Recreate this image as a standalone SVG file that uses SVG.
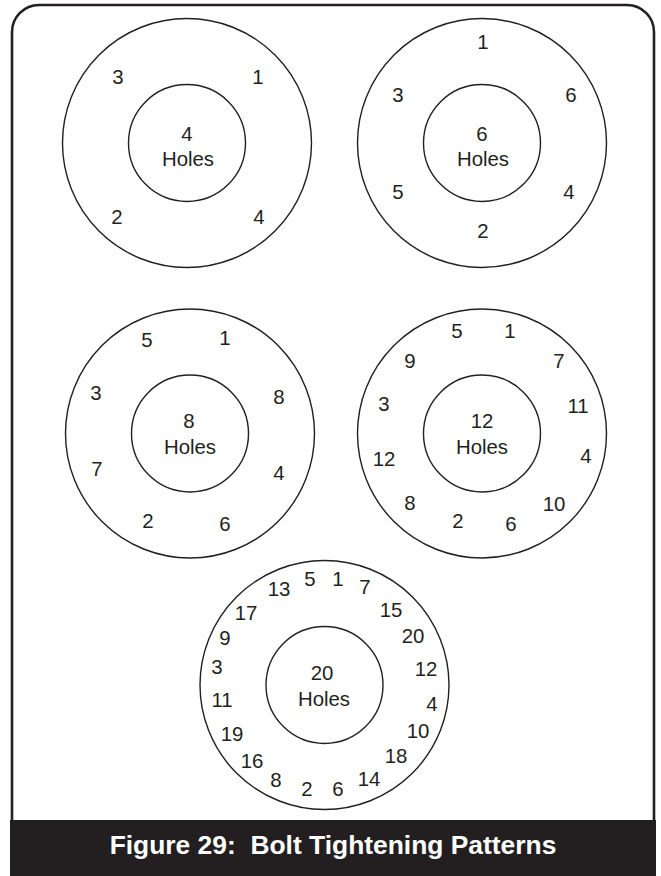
<svg xmlns="http://www.w3.org/2000/svg" width="661" height="876" viewBox="0 0 661 876">
<style>
.ring{fill:none;stroke:#231f20;stroke-width:1.4}
.n{font-family:"Liberation Sans",Arial,sans-serif;font-size:20.4px;fill:#231f20;text-anchor:middle}
.frame{fill:none;stroke:#231f20;stroke-width:2.6}
.cap{font-family:"Liberation Sans",Arial,sans-serif;font-size:26.4px;font-weight:bold;fill:#ffffff;text-anchor:middle;white-space:pre}
</style>
<rect x="0" y="0" width="661" height="876" fill="#ffffff"/>
<path class="frame" d="M12,820 V32 A27,27 0 0 1 39,5 H627 A27,27 0 0 1 654,32 V820"/>

<g id="pattern-4">
<circle class="ring" cx="187" cy="143" r="124.5"/>
<circle class="ring" cx="187" cy="143" r="58.5"/>
<text class="n" x="187" y="141">4</text>
<text class="n" x="188" y="166">Holes</text>
<text class="n" x="118" y="84">3</text>
<text class="n" x="258" y="84">1</text>
<text class="n" x="117" y="224">2</text>
<text class="n" x="259" y="224">4</text>
</g>

<g id="pattern-6">
<circle class="ring" cx="482" cy="143" r="124.5"/>
<circle class="ring" cx="482" cy="143" r="58.5"/>
<text class="n" x="482" y="141">6</text>
<text class="n" x="483" y="166">Holes</text>
<text class="n" x="483" y="49">1</text>
<text class="n" x="398" y="102">3</text>
<text class="n" x="571" y="102">6</text>
<text class="n" x="398" y="199">5</text>
<text class="n" x="569" y="199">4</text>
<text class="n" x="483" y="238">2</text>
</g>

<g id="pattern-8">
<circle class="ring" cx="190" cy="433.5" r="124.5"/>
<circle class="ring" cx="190" cy="433.5" r="58.5"/>
<text class="n" x="189" y="428">8</text>
<text class="n" x="190" y="454">Holes</text>
<text class="n" x="147" y="347">5</text>
<text class="n" x="225" y="345">1</text>
<text class="n" x="96" y="400">3</text>
<text class="n" x="279" y="404">8</text>
<text class="n" x="97" y="476">7</text>
<text class="n" x="279" y="480">4</text>
<text class="n" x="148" y="528">2</text>
<text class="n" x="225" y="531">6</text>
</g>

<g id="pattern-12">
<circle class="ring" cx="482" cy="433.5" r="124.5"/>
<circle class="ring" cx="482" cy="433.5" r="58.5"/>
<text class="n" x="482" y="428">12</text>
<text class="n" x="482" y="454">Holes</text>
<text class="n" x="457" y="338">5</text>
<text class="n" x="510" y="338">1</text>
<text class="n" x="410" y="368">9</text>
<text class="n" x="559" y="368">7</text>
<text class="n" x="384" y="411">3</text>
<text class="n" x="578" y="413">11</text>
<text class="n" x="384" y="466">12</text>
<text class="n" x="586" y="463">4</text>
<text class="n" x="410" y="510">8</text>
<text class="n" x="554" y="511">10</text>
<text class="n" x="458" y="528">2</text>
<text class="n" x="511" y="531">6</text>
</g>

<g id="pattern-20">
<circle class="ring" cx="324.5" cy="685" r="124.5"/>
<circle class="ring" cx="324.5" cy="685" r="58.5"/>
<text class="n" x="322" y="680">20</text>
<text class="n" x="324" y="706">Holes</text>
<text class="n" x="310" y="586">5</text>
<text class="n" x="338" y="586">1</text>
<text class="n" x="365" y="594">7</text>
<text class="n" x="279" y="596">13</text>
<text class="n" x="391" y="617">15</text>
<text class="n" x="246" y="620">17</text>
<text class="n" x="413" y="643">20</text>
<text class="n" x="225" y="645">9</text>
<text class="n" x="426" y="676">12</text>
<text class="n" x="217" y="674">3</text>
<text class="n" x="432" y="711">4</text>
<text class="n" x="222" y="707">11</text>
<text class="n" x="418" y="738">10</text>
<text class="n" x="232" y="741">19</text>
<text class="n" x="396" y="763">18</text>
<text class="n" x="252" y="768">16</text>
<text class="n" x="369" y="786">14</text>
<text class="n" x="276" y="787">8</text>
<text class="n" x="307" y="796">2</text>
<text class="n" x="338" y="796">6</text>
</g>

<g id="caption">
<rect x="10" y="820" width="646" height="56" fill="#231f20"/>
<text class="cap" x="333" y="854" xml:space="preserve">Figure 29:  Bolt Tightening Patterns</text>
</g>
</svg>
